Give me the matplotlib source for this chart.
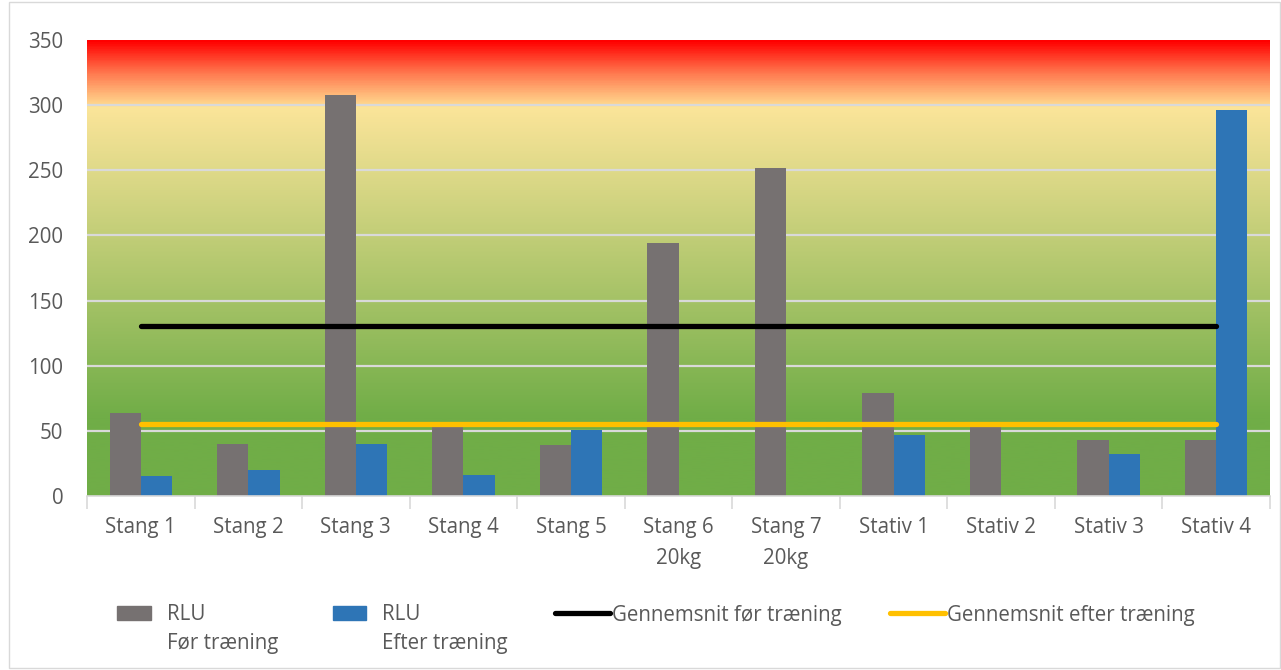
import numpy as np
import matplotlib.pyplot as plt
import matplotlib.patches as mpatches
import matplotlib.lines as mlines
import matplotlib.colors as mcolors
from matplotlib.legend_handler import HandlerPatch, HandlerLine2D

# data
categories = ['Stang 1', 'Stang 2', 'Stang 3', 'Stang 4', 'Stang 5', 'Stang 6\n20kg',
              'Stang 7\n20kg', 'Stativ 1', 'Stativ 2', 'Stativ 3', 'Stativ 4']
rlu_foer = [64, 40, 308, 53, 39, 194, 252, 79, 53, 43, 43]
rlu_efter = [15, 20, 40, 16, 51, 0, 0, 47, 0, 32, 296]
avg_foer = 130.5
avg_efter = 55.5
y_ticks = [0, 50, 100, 150, 200, 250, 300, 350]

plt.rcParams['font.family'] = ['Open Sans', 'DejaVu Sans']
txt_col = '#595959'
fs = 14.8

fig = plt.figure(figsize=(12.81, 6.70), dpi=100)
ax = fig.add_axes([87 / 1281, 1 - 496 / 670, 1183 / 1281, 456 / 670])

# background gradient: green -> pale yellow up to 300, then orange -> red
stops = [(0, '#70AD47'), (60, '#70AD47'), (300, '#FCE59A'),
         (301, '#FFD88E'), (325, '#FF7A50'), (350, '#FF0000')]
cmap = mcolors.LinearSegmentedColormap.from_list(
    'bg', [(v / 350, c) for v, c in stops])
grad = np.linspace(0, 1, 700).reshape(-1, 1)
n = len(categories)
ax.imshow(grad, cmap=cmap, aspect='auto', origin='lower',
          extent=(-0.5, n - 0.5, 0, 350), zorder=0)

for yv in y_ticks[1:-1]:
    ax.axhline(yv, color='#D9D9D9', lw=1.6, zorder=1)

x = np.arange(n)
w = 0.29
ax.bar(x - w / 2, rlu_foer, w, color='#767171', zorder=2)
ax.bar(x + w / 2, rlu_efter, w, color='#2E75B6', zorder=2)

ax.plot(x, [avg_foer] * n, color='black', lw=3.8, solid_capstyle='round', zorder=3)
ax.plot(x, [avg_efter] * n, color='#FFC000', lw=3.8, solid_capstyle='round', zorder=3)

ax.set_xlim(-0.5, n - 0.5)
ax.set_ylim(0, 350)
ax.set_yticks(y_ticks)
ax.set_xticks(x)
ax.set_xticklabels(categories, linespacing=1.62)
ax.set_xticks(np.arange(n + 1) - 0.5, minor=True)
ax.tick_params(axis='both', which='major', length=0, labelsize=fs, colors=txt_col)
ax.tick_params(axis='y', pad=17)
ax.tick_params(axis='x', pad=15)
ax.tick_params(axis='x', which='minor', length=9, color='#D9D9D9', width=1.2)
for s in ['top', 'right', 'left']:
    ax.spines[s].set_visible(False)
ax.spines['bottom'].set_color('#D9D9D9')
ax.spines['bottom'].set_linewidth(1.2)

# legend: handles sit on the first text line, labels are two lines
up = 12  # points


def small_patch(legend, orig_handle, xdescent, ydescent, width, height, fontsize):
    pw = 24
    return mpatches.Rectangle((-xdescent + width - pw - 10, -ydescent + up), pw, height)


class RaisedLine(HandlerLine2D):
    def create_artists(self, legend, orig_handle, xdescent, ydescent, width, height,
                       fontsize, trans):
        arts = super().create_artists(legend, orig_handle, xdescent, ydescent, width,
                                      height, fontsize, trans)
        for a in arts:
            a.set_ydata(np.asarray(a.get_ydata()) + up)
        return arts


handles = [
    mpatches.Patch(color='#767171'),
    mpatches.Patch(color='#2E75B6'),
    mlines.Line2D([], [], color='black', lw=3.8, solid_capstyle='round'),
    mlines.Line2D([], [], color='#FFC000', lw=3.8, solid_capstyle='round'),
]
labels = ['RLU\nFør træning', 'RLU\nEfter træning',
          'Gennemsnit før træning\n ', 'Gennemsnit efter træning\n ']
leg = fig.legend(handles, labels, loc='upper left', bbox_to_anchor=(91 / 1281, 1 - 586 / 670),
                 ncol=4, frameon=False, fontsize=fs, handlelength=2.68, handletextpad=0.1,
                 columnspacing=2.3, handleheight=0.65,
                 handler_map={mpatches.Patch: HandlerPatch(patch_func=small_patch),
                              mlines.Line2D: RaisedLine()})
for t in leg.get_texts():
    t.set_color(txt_col)
    t.set_linespacing(1.45)

fig.add_artist(mpatches.Rectangle((9 / 1281, 0.003), 1 - 10 / 1281, 0.994, transform=fig.transFigure,
                                  fill=False, edgecolor='#D9D9D9', lw=1))

fig.savefig('out.png', dpi=100)
